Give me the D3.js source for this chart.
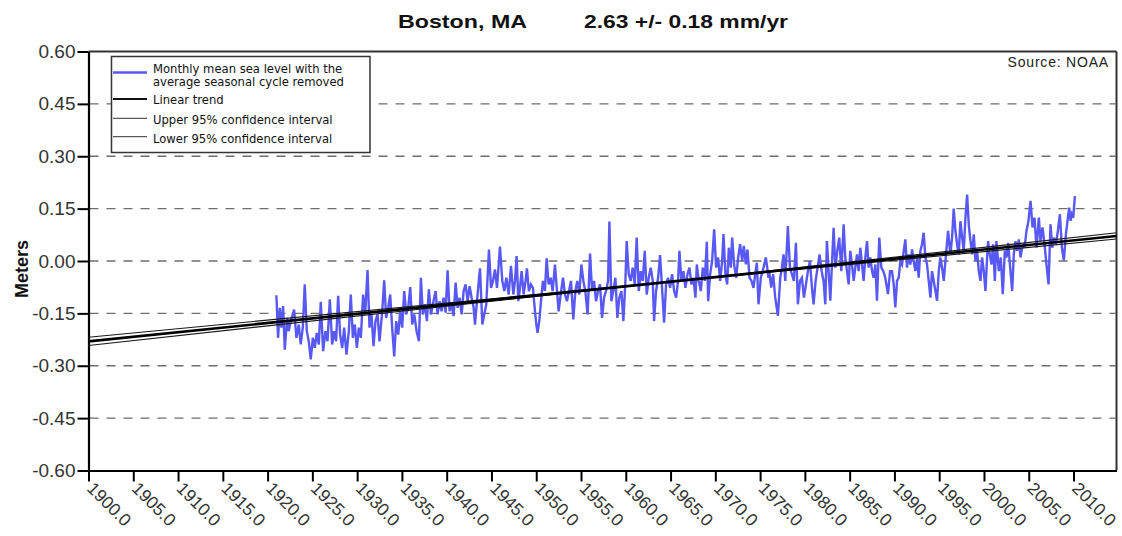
<!DOCTYPE html>
<html><head><meta charset="utf-8">
<script src="https://cdn.jsdelivr.net/npm/d3@7"></script>
<style>body{margin:0;background:#fff} svg{display:block}</style>
</head><body><svg id="c" width="1122" height="536"></svg>
<script>
// ---------- data ----------
const titleStation = "Boston, MA";
const titleRate = "2.63 +/- 0.18 mm/yr";
const yLabel = "Meters";
const sourceText = "Source: NOAA";
const legendLabels = [["Monthly mean sea level with the", "average seasonal cycle removed"], ["Linear trend"], ["Upper 95% confidence interval"], ["Lower 95% confidence interval"]];
const yTicks = [-0.60, -0.45, -0.30, -0.15, 0.00, 0.15, 0.30, 0.45, 0.60];
const xTicks = [1900, 1905, 1910, 1915, 1920, 1925, 1930, 1935, 1940, 1945, 1950, 1955, 1960, 1965, 1970, 1975, 1980, 1985, 1990, 1995, 2000, 2005, 2010];
const xDomain = [1900, 2014.8];
const yDomain = [-0.60, 0.60];

const obsYears = [
1920.98,1921.17,1921.36,1921.54,1921.73,1921.92,1922.18,1922.36,1922.59,1922.96,
1923.22,1923.48,1923.70,1923.93,1924.15,1924.38,1924.60,1924.82,1925.05,1925.27,
1925.49,1925.72,1925.94,1926.20,1926.46,1926.69,1926.95,1927.21,1927.43,1927.65,
1927.88,1928.10,1928.33,1928.55,1928.81,1929.07,1929.29,1929.52,1929.74,1929.97,
1930.19,1930.41,1930.67,1930.90,1931.16,1931.38,1931.60,1931.83,1932.05,1932.28,
1932.50,1932.80,1933.02,1933.24,1933.47,1933.69,1933.91,1934.14,1934.36,1934.59,
1934.81,1935.03,1935.26,1935.48,1935.70,1935.93,1936.15,1936.38,1936.64,1936.90,
1937.12,1937.34,1937.57,1937.79,1938.01,1938.24,1938.46,1938.76,1938.98,1939.21,
1939.43,1939.65,1939.88,1940.10,1940.32,1940.55,1940.77,1941.00,1941.22,1941.44,
1941.67,1941.89,1942.11,1942.34,1942.56,1942.78,1943.01,1943.16,1943.38,1943.72,
1943.98,1944.20,1944.42,1944.72,1944.95,1945.17,1945.39,1945.62,1945.95,1946.21,
1946.44,1946.66,1946.92,1947.18,1947.44,1947.63,1947.81,1948.00,
1948.14,1948.37,1948.59,1948.81,1948.96,1949.18,1949.41,1949.63,1949.86,1950.01,
1950.15,1950.34,1950.53,1950.75,1950.97,1951.16,1951.38,1951.61,1951.83,1952.09,
1952.32,1952.50,1952.73,1952.99,1953.21,1953.43,1953.66,1953.88,1954.14,1954.37,
1954.59,1954.81,1955.04,1955.26,1955.48,1955.74,1956.01,1956.23,1956.45,1956.68,
1956.90,1957.12,1957.35,1957.57,1957.79,1958.02,1958.17,1958.39,1958.61,1958.84,
1959.06,1959.28,1959.51,1959.73,1959.96,1960.10,1960.33,1960.55,1960.77,1961.00,
1961.22,1961.45,1961.67,1961.89,1962.12,1962.34,1962.56,1962.79,1963.01,1963.16,
1963.38,1963.61,1963.83,1964.05,1964.28,1964.50,1964.72,1964.95,1965.17,1965.40,
1965.62,1965.84,1965.99,1966.21,1966.44,1966.66,1966.89,1967.11,1967.33,1967.56,
1967.78,1967.93,1968.15,1968.38,1968.60,1968.82,1969.05,1969.20,1969.42,1969.64,
1969.87,1970.09,1970.31,1970.54,1970.76,1970.91,1971.13,1971.32,1971.51,1971.73,
1971.88,1972.10,1972.33,1972.55,1972.77,1973.00,1973.18,1973.41,1973.59,1973.82,
1974.04,1974.26,1974.45,1974.64,1974.82,1975.08,1975.38,1975.64,1975.94,
1976.02,1976.24,1976.46,1976.69,1976.99,1977.25,1977.43,1977.62,1977.81,1978.10,
1978.33,1978.55,1978.77,1979.00,1979.22,1979.45,1979.67,1979.89,1980.12,1980.34,
1980.56,1980.79,1980.97,1981.20,1981.42,1981.64,1981.87,1982.09,1982.28,1982.46,
1982.65,1982.84,1983.02,1983.21,1983.40,1983.62,1983.84,1984.07,1984.33,1984.51,
1984.70,1984.89,1985.07,1985.26,1985.45,1985.63,1985.82,1986.00,1986.19,1986.38,
1986.56,1986.75,1986.94,1987.12,1987.31,1987.50,1987.68,1987.87,1988.05,1988.31,
1988.54,1988.76,1988.98,1989.28,1989.51,1989.73,1989.92,1990.10,1990.29,1990.48,
1990.66,1990.85,1991.04,1991.22,1991.41,1991.59,1991.78,1991.97,1992.15,1992.34,
1992.53,1992.71,1992.90,1993.08,1993.27,1993.46,1993.64,1993.83,1994.02,1994.20,
1994.39,1994.58,1994.76,1994.95,1995.13,1995.32,1995.51,1995.73,1995.99,1996.25,
1996.44,1996.62,1996.81,1997.00,1997.18,1997.37,1997.56,1997.74,1997.93,1998.12,
1998.30,1998.45,1998.68,1998.86,1999.05,1999.23,1999.42,1999.61,1999.79,1999.98,
2000.17,2000.35,2000.46,2000.65,2000.84,2001.02,2001.21,2001.39,2001.66,2001.88,
2002.10,2002.33,2002.51,2002.70,2002.96,2003.15,2003.33,2003.52,2003.70,2003.89,
2004.08,2004.26,2004.49,
2004.53,2004.75,2004.97,2005.20,2005.42,2005.64,2005.87,2006.13,2006.31,2006.54,
2006.76,2006.98,2007.21,2007.43,2007.62,2007.81,2008.03,2008.25,2008.48,2008.70,
2008.92,2009.15,2009.37,2009.52,2009.67,2009.82,2009.97,2010.15
];
const obsMeters = [
-0.098,-0.220,-0.134,-0.191,-0.129,-0.254,-0.163,-0.201,-0.172,-0.139,
-0.220,-0.182,-0.239,-0.191,-0.067,-0.201,-0.230,-0.282,-0.220,-0.249,
-0.206,-0.239,-0.117,-0.258,-0.201,-0.230,-0.110,-0.239,-0.201,-0.230,
-0.100,-0.211,-0.249,-0.191,-0.268,-0.201,-0.096,-0.220,-0.182,-0.249,
-0.191,-0.220,-0.096,-0.153,-0.026,-0.191,-0.153,-0.244,-0.172,-0.153,
-0.230,-0.144,-0.055,-0.163,-0.134,-0.096,-0.191,-0.273,-0.172,-0.211,
-0.144,-0.191,-0.086,-0.153,-0.134,-0.075,-0.182,-0.153,-0.201,-0.230,
-0.048,-0.153,-0.124,-0.172,-0.081,-0.153,-0.124,-0.086,-0.153,-0.115,
-0.144,-0.105,-0.148,-0.027,-0.144,-0.124,-0.158,-0.062,-0.134,-0.105,
-0.153,-0.086,-0.067,-0.115,-0.072,-0.105,-0.134,-0.182,-0.115,-0.021,
-0.182,-0.153,-0.124,0.033,-0.077,-0.057,-0.024,-0.077,0.041,-0.057,
-0.086,-0.048,-0.096,-0.014,-0.096,-0.057,0.014,-0.115,
-0.086,-0.029,-0.096,-0.057,-0.021,-0.086,-0.067,-0.077,-0.144,-0.182,
-0.206,-0.172,-0.115,-0.057,-0.086,0.008,-0.067,-0.048,-0.086,-0.010,
-0.086,-0.144,-0.096,-0.048,-0.096,-0.115,-0.086,-0.057,-0.167,-0.086,
-0.057,-0.096,-0.010,-0.057,-0.086,-0.153,0.021,-0.086,-0.057,-0.115,
-0.086,-0.067,-0.163,-0.105,-0.086,-0.057,0.113,-0.115,-0.086,-0.048,
-0.163,-0.105,-0.086,-0.172,-0.057,0.057,-0.038,-0.057,-0.019,-0.067,
0.067,-0.086,-0.029,-0.057,0.029,-0.096,-0.048,-0.019,-0.057,-0.172,
-0.086,-0.048,0.017,-0.077,-0.177,-0.067,-0.048,-0.077,-0.038,-0.086,
-0.105,-0.057,0.029,-0.057,-0.029,-0.077,-0.038,-0.019,-0.067,-0.048,
-0.105,-0.010,-0.057,-0.086,-0.019,-0.057,0.055,-0.115,-0.038,0.000,
0.091,-0.019,0.010,-0.057,0.000,0.077,-0.038,-0.067,0.038,-0.019,
0.067,-0.010,-0.048,0.010,0.048,0.000,0.043,-0.010,0.033,-0.048,
-0.057,-0.077,-0.038,-0.005,-0.124,-0.048,-0.019,0.010,-0.048,
-0.029,-0.076,-0.038,-0.105,-0.157,-0.048,-0.019,0.019,-0.057,0.100,
-0.019,-0.038,-0.057,0.052,-0.124,-0.057,-0.048,-0.105,-0.067,-0.029,
0.000,-0.076,-0.124,-0.057,-0.019,0.019,-0.029,-0.057,-0.124,0.057,
-0.029,-0.114,-0.010,0.095,-0.019,0.029,0.067,-0.029,0.105,0.010,
-0.029,-0.067,0.029,-0.010,-0.057,-0.019,0.019,-0.029,0.038,-0.010,
-0.057,0.010,0.057,-0.019,0.010,-0.029,-0.048,-0.010,-0.114,0.067,
-0.019,-0.029,-0.048,-0.095,-0.029,-0.029,-0.067,-0.133,-0.057,-0.048,
0.000,-0.010,0.029,0.062,-0.019,0.019,-0.010,0.033,0.000,-0.029,
0.010,-0.048,0.029,0.048,0.081,0.010,-0.010,-0.057,-0.105,-0.029,
-0.057,-0.086,-0.114,-0.029,0.010,-0.019,-0.057,0.010,0.086,0.019,
0.067,0.150,0.086,0.048,0.019,0.114,0.067,0.029,0.124,0.190,
0.105,0.067,0.019,0.076,0.000,0.029,-0.029,-0.057,0.010,-0.029,
-0.086,0.010,0.057,0.019,-0.010,0.048,-0.057,0.057,-0.029,0.010,
-0.095,0.029,0.010,0.052,-0.029,-0.086,0.019,0.057,0.029,0.062,
0.010,0.038,0.048,
0.038,0.086,0.115,0.172,0.096,0.124,0.038,0.124,0.057,0.096,
0.048,-0.010,-0.067,0.105,0.038,0.067,0.048,0.086,0.134,0.038,
0.002,0.076,0.124,0.153,0.115,0.134,0.124,0.186
];
const trendYears = [1900, 2014.8];
const trendMeters = [-0.2302, 0.0718];
const upperCIMeters = [-0.2419, 0.0807];
const lowerCIMeters = [-0.2183, 0.0630];

// ---------- drawing ----------
const svg = d3.select("#c");
const FONT = "Arial, 'Liberation Sans', sans-serif";
const LFONT = "'DejaVu Sans', Verdana, sans-serif";
const x = d3.scaleLinear().domain(xDomain).range([88.5, 1116.5]);
const y = d3.scaleLinear().domain(yDomain).range([470.5, 51.5]);

// gridlines
svg.append("g").selectAll("line")
  .data(yTicks.filter(d => Math.abs(d) < 0.59))
  .join("line")
  .attr("x1", x(xDomain[0]) + 1).attr("x2", x(xDomain[1]) - 1)
  .attr("y1", d => y(d)).attr("y2", d => y(d))
  .attr("stroke", "#6e6e6e").attr("stroke-width", 1.4)
  .attr("stroke-dasharray", "9,8");

// frame top & right
svg.append("line").attr("x1", x(xDomain[0])).attr("x2", x(xDomain[1]))
  .attr("y1", y(yDomain[1])).attr("y2", y(yDomain[1])).attr("stroke", "#333").attr("stroke-width", 2);
svg.append("line").attr("x1", x(xDomain[1])).attr("x2", x(xDomain[1]))
  .attr("y1", y(yDomain[1])).attr("y2", y(yDomain[0])).attr("stroke", "#333").attr("stroke-width", 2);

// observed series
const obs = obsYears.map((yr, i) => ({ yr, v: obsMeters[i] })).filter(d => d.v !== undefined);
svg.append("path").datum(obs)
  .attr("fill", "none").attr("stroke", "#5858f4").attr("stroke-width", 2.4)
  .attr("stroke-linejoin", "miter")
  .attr("d", d3.line().x(d => x(d.yr)).y(d => y(d.v)));

// trend & CI lines
function straight(vals) { return trendYears.map((yr, i) => ({ yr, v: vals[i] })); }
const ln = d3.line().x(d => x(d.yr)).y(d => y(d.v));
svg.append("path").datum(straight(upperCIMeters)).attr("fill", "none").attr("stroke", "#1a1a1a").attr("stroke-width", 1.1).attr("d", ln);
svg.append("path").datum(straight(lowerCIMeters)).attr("fill", "none").attr("stroke", "#1a1a1a").attr("stroke-width", 1.1).attr("d", ln);
svg.append("path").datum(straight(trendMeters)).attr("fill", "none").attr("stroke", "#000").attr("stroke-width", 2.6).attr("d", ln);

// axes
const yAxis = svg.append("g").attr("transform", `translate(${x(xDomain[0])},0)`)
  .call(d3.axisLeft(y).tickValues(yTicks).tickSize(11).tickSizeOuter(0).tickPadding(2).tickFormat(d => d.toFixed(2)));
yAxis.select(".domain").attr("stroke", "#000").attr("stroke-width", 2.2);
yAxis.selectAll(".tick line").attr("stroke", "#000").attr("stroke-width", 2);
yAxis.selectAll("text").attr("font-family", FONT).attr("font-size", 19).attr("fill", "#333");

const xAxis = svg.append("g").attr("transform", `translate(0,${y(yDomain[0])})`)
  .call(d3.axisBottom(x).tickValues(xTicks).tickSize(11).tickSizeOuter(0).tickFormat(d => d.toFixed(1)));
xAxis.select(".domain").attr("stroke", "#000").attr("stroke-width", 2.2);
xAxis.selectAll(".tick line").attr("stroke", "#000").attr("stroke-width", 2);
xAxis.selectAll("text")
  .attr("x", 0).attr("y", 0).attr("dy", 0)
  .attr("text-anchor", "start")
  .attr("transform", "translate(-3,19) rotate(45)")
  .attr("font-family", FONT).attr("font-size", 17.5).attr("fill", "#333");

// titles
svg.append("text").text(titleStation).attr("x", 398).attr("y", 28)
  .attr("font-family", FONT).attr("font-weight", "bold").attr("font-size", 19)
  .attr("textLength", 129).attr("lengthAdjust", "spacingAndGlyphs").attr("fill", "#111");
svg.append("text").text(titleRate).attr("x", 584).attr("y", 28)
  .attr("font-family", FONT).attr("font-weight", "bold").attr("font-size", 19)
  .attr("textLength", 204).attr("lengthAdjust", "spacingAndGlyphs").attr("fill", "#111");
svg.append("text").text(yLabel)
  .attr("transform", `translate(28,${(y(yDomain[0]) + y(yDomain[1])) / 2 + 8}) rotate(-90)`)
  .attr("text-anchor", "middle")
  .attr("font-family", FONT).attr("font-weight", "bold").attr("font-size", 18).attr("fill", "#111");

// source
svg.append("text").text(sourceText).attr("x", 1109).attr("y", 67).attr("text-anchor", "end")
  .attr("font-family", FONT).attr("font-size", 14).attr("letter-spacing", 0.8).attr("fill", "#222");

// legend
const lg = svg.append("g");
lg.append("rect").attr("x", 111.5).attr("y", 56.5).attr("width", 258.5).attr("height", 96)
  .attr("fill", "#fff").attr("stroke", "#333").attr("stroke-width", 1.5);
const legendSamples = [
  { y: 72.5, color: "#5858f4", w: 2.4 },
  { y: 99, color: "#111", w: 1.8 },
  { y: 118.3, color: "#333", w: 1 },
  { y: 136.7, color: "#333", w: 1 }
];
const legendBaselines = [[72.5, 86], [104], [123.5], [143]];
legendSamples.forEach((s, i) => {
  lg.append("line").attr("x1", 113).attr("x2", 147).attr("y1", s.y).attr("y2", s.y)
    .attr("stroke", s.color).attr("stroke-width", s.w);
  legendLabels[i].forEach((t, j) => {
    lg.append("text").text(t).attr("x", 153).attr("y", legendBaselines[i][j])
      .attr("font-family", LFONT).attr("font-size", 11.6).attr("fill", "#111");
  });
});
</script></body></html>
